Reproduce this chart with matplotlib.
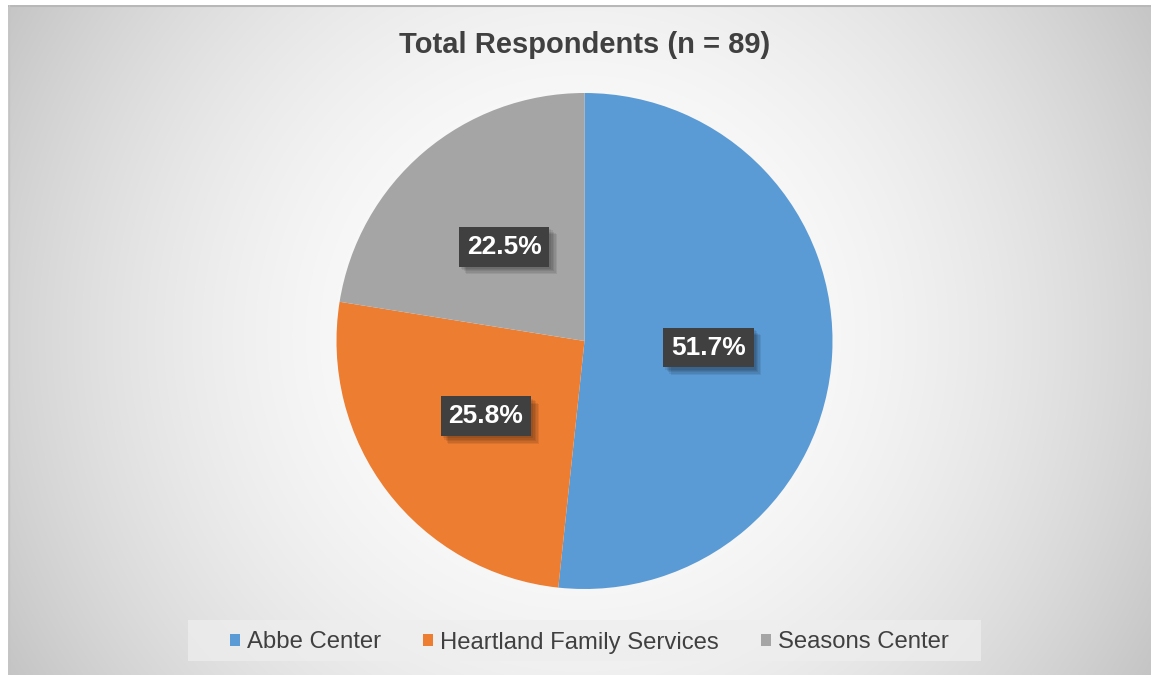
import numpy as np
import matplotlib
matplotlib.use("Agg")
import matplotlib.pyplot as plt
from matplotlib.patches import Rectangle
import matplotlib.patheffects as pe

plt.rcParams['font.family'] = ['Liberation Sans', 'DejaVu Sans']

# Data
title = "Total Respondents (n = 89)"
categories = ["Abbe Center", "Heartland Family Services", "Seasons Center"]
counts = [46, 23, 20]
colors = ["#5B9BD5", "#ED7D31", "#A5A5A5"]

W, H = 1151, 675
fig = plt.figure(figsize=(W / 100, H / 100), dpi=100)
fig.patch.set_facecolor("white")

# Background gradient (chart area)
bx0, by0 = 8, 5  # left/top margin in px
bg = fig.add_axes([bx0 / W, 0, (W - bx0) / W, (H - by0) / H])
bg.set_axis_off()
yy, xx = np.mgrid[0:H - by0, 0:W - bx0]
cx, cy = 580 - bx0, 335 - by0
d2 = (xx - cx) ** 2 + (yy - cy) ** 2
v = np.clip(1.0 - 5.2e-7 * d2, 0, 1)
img = np.dstack([v, v, v])
bg.imshow(img, aspect='auto', extent=[0, W - bx0, H - by0, 0])
bg.set_xlim(0, W - bx0)
bg.set_ylim(H - by0, 0)
bg.plot([0, W - bx0], [0.5, 0.5], color="#b8b8b8", lw=1.5)
bg.plot([0.5, 0.5], [0, H - by0], color="#c4c4c4", lw=1.0)

# Legend background box
bg.add_patch(Rectangle((188 - bx0, 620 - by0), 981 - 188, 41,
                       facecolor="#eeeeee", edgecolor="none", alpha=0.75))

# Pie
pcx, pcy, r = 584.5, 341, 248
ax = fig.add_axes([(pcx - r) / W, (H - pcy - r) / H, 2 * r / W, 2 * r / H])
wedges, texts, autotexts = ax.pie(
    counts, colors=colors, startangle=90, counterclock=False,
    autopct=lambda p: f"{p:.1f}%", pctdistance=0.5, radius=1,
    wedgeprops=dict(linewidth=0),
    textprops=dict(color="white", fontsize=19, fontweight="bold"))
ax.set_xlim(-1, 1)
ax.set_ylim(-1, 1)
ax.set_aspect('equal')
ax.set_axis_off()

shadow = [pe.SimplePatchShadow(offset=(o, -o), shadow_rgbFace="black", alpha=0.08)
          for o in (1.5, 2.5, 3.5, 4.5, 5.5)]
for t in autotexts:
    t.set_bbox(dict(boxstyle="square,pad=0.3", facecolor="#404040",
                    edgecolor="none", linewidth=0))
    t.get_bbox_patch().set_path_effects(shadow + [pe.Normal()])

# Title
fig.text(585 / W, 1 - 45 / H, title, ha="center", va="center",
         fontsize=21, fontweight="bold", color="#404040")

# Legend
handles = [Rectangle((0, 0), 1, 1, facecolor=c, edgecolor="none") for c in colors]
leg = fig.legend(handles, categories, loc="center", ncol=3,
                 bbox_to_anchor=(589.5 / W, 1 - 642.5 / H), frameon=False,
                 fontsize=17.2, handlelength=0.42, handleheight=0.42,
                 handletextpad=0.3, columnspacing=1.75, labelcolor="#404040")

fig.savefig("out.png", dpi=100)
